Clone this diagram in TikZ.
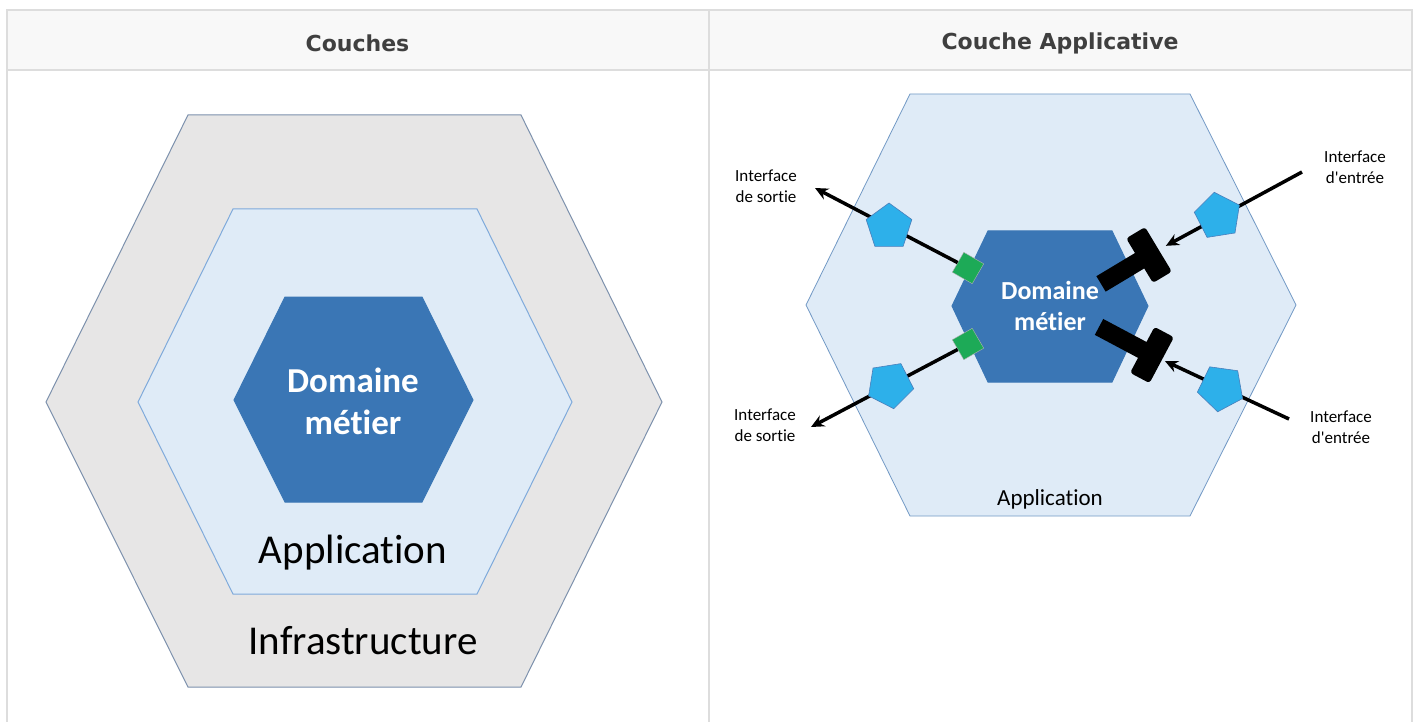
\documentclass[tikz,border=0pt]{standalone}
\usepackage{fontspec}
\setmainfont{Carlito}[Ligatures={TeXOff,NoCommon}]
\newfontfamily\headfont{DejaVu Sans}
\usetikzlibrary{shapes.geometric, arrows.meta}
\definecolor{gridline}{HTML}{DDDDDD}
\definecolor{headfill}{HTML}{F8F8F8}
\definecolor{headtext}{HTML}{3F3F3F}
\definecolor{infragray}{HTML}{E7E6E6}
\definecolor{infraedge}{HTML}{7D91AD}
\definecolor{appliblue}{HTML}{DFEBF7}
\definecolor{appliedge}{HTML}{7FAADB}
\definecolor{domaineblue}{HTML}{3A76B5}
\definecolor{pentablue}{HTML}{2DB0EA}
\definecolor{pentaedge}{HTML}{4A7EBB}
\definecolor{portgreen}{HTML}{1DAA57}
\tikzset{
   hexagone/.style={line width=1pt},
   infra/.style={
      hexagone,
      fill=infragray, draw=infraedge
   },
   appli/.style={
      hexagone,
      fill=appliblue, draw=appliedge
   },
   domaine/.style={
      hexagone,
      fill=domaineblue, draw=domaineblue
   },
   titre/.style={font=\headfont\bfseries\fontsize{22}{26}\selectfont, text=headtext},
   adapter/.style={
      regular polygon, regular polygon sides=5, minimum size=48pt, inner sep=0pt,
      fill=pentablue, draw=pentaedge, line width=0.6pt
   },
   porte/.style={
      rectangle, minimum size=23pt, inner sep=0pt,
      fill=portgreen, draw=gray!60, line width=0.4pt
   },
   tige/.style={rectangle, fill=black, inner sep=0pt, minimum height=18pt},
   barre/.style={rectangle, fill=black, inner sep=0pt, rounded corners=3pt,
      minimum width=22pt, minimum height=52pt},
   fleche/.style={-{Stealth[length=13pt,width=12pt]}, line width=3.5pt},
   legende/.style={align=center, font=\fontsize{17}{21}\selectfont},
   domtexte/.style={align=center, text=white, font=\bfseries}
}

\begin{document}
\begin{tikzpicture}[x=1pt, y=-1pt]
      \useasboundingbox (0,0) rectangle (1416,722);
      \fill[white] (0,0) rectangle (1416,722);

      \fill[headfill] (6.5,10) rectangle (1411.5,70.5);
      \draw[gridline, line width=2pt] (6.5,722) -- (6.5,10) -- (1411.5,10) -- (1411.5,722);
      \draw[gridline, line width=2pt] (6.5,70.5) -- (1411.5,70.5);
      \draw[gridline, line width=2pt] (709,10) -- (709,722);
      \node[titre](titreCouches) at (357.5,43) {Couches};
      \node[titre](titreApplicative) at (1060,43) {Couche Applicative};

      \draw[infra] (46,402) -- (188,115) -- (521,115) -- (662,402) -- (521,687) -- (188,687) -- cycle;
      \draw[appli] (138,402) -- (233,209) -- (477,209) -- (572,402) -- (477,594) -- (233,594) -- cycle;
      \draw[domaine] (234,400) -- (285,297) -- (422,297) -- (473,400) -- (422,502) -- (285,502) -- cycle;
      \node[domtexte, font=\bfseries\fontsize{35}{42}\selectfont](domaineG) at (353,401) {Domaine\\ métier};
      \node[font=\fontsize{41}{48}\selectfont](applicationG) at (353,553) {Application};
      \node[font=\fontsize{41}{48}\selectfont](infrastructure) at (363,641) {Infrastructure};

      \draw[appli, line width=0.8pt, draw=appliedge!90!black] (806,305) -- (910,94) -- (1190,94) -- (1296,305) -- (1190,516) -- (910,516) -- cycle;
      \draw[domaine] (952,306) -- (988,231) -- (1112,231) -- (1148,306) -- (1112,382) -- (988,382) -- cycle;
      \node[domtexte, font=\bfseries\fontsize{26}{31}\selectfont](domaineD) at (1050,306) {Domaine\\ métier};
      \node[font=\fontsize{23}{28}\selectfont](applicationD) at (1050,499) {Application};

      \node[porte, rotate=-30](porteHaut) at (968,268) {};
      \node[porte, rotate=30](porteBas) at (968,344) {};

      \node[tige, minimum width=56pt, rotate=31](tigeHaut) at (1125,269.5) {};
      \node[barre, rotate=31](priseHaut) at (1149,255) {};
      \node[tige, minimum width=60pt, rotate=-28](tigeBas) at (1125.5,341) {};
      \node[barre, rotate=-28](priseBas) at (1152,355) {};

      \coordinate (sortieHaut) at (815,188);
      \coordinate (sortieBas) at (811,427);
      \coordinate (entreeHaut) at (1302,172);
      \coordinate (entreeBas) at (1289,419);

      \draw[fleche] (porteHaut) -- (sortieHaut);
      \draw[fleche] (porteBas) -- (sortieBas);
      \draw[fleche, shorten >=8pt] (entreeHaut) -- (priseHaut);
      \draw[fleche, shorten >=3pt] (entreeBas) -- (priseBas);

      \node[adapter](adapterHG) at (889,227) {};
      \node[adapter, rotate=-27](adapterBG) at (890,385) {};
      \node[adapter, rotate=9](adapterHD) at (1218,216) {};
      \node[adapter, rotate=28](adapterBD) at (1221,388) {};

      \node[legende](legendeHG) at (766,186) {Interface\\ de sortie};
      \node[legende](legendeBG) at (765,425) {Interface\\ de sortie};
      \node[legende](legendeHD) at (1355,167) {Interface\\ d'entrée};
      \node[legende](legendeBD) at (1341,427) {Interface\\ d'entrée};
   \end{tikzpicture}
\end{document}
